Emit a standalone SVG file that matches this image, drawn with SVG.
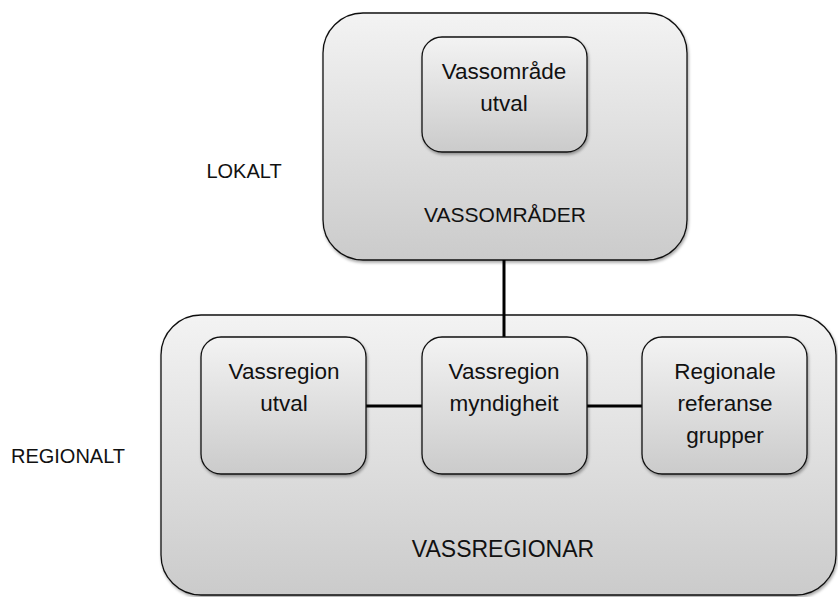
<svg xmlns="http://www.w3.org/2000/svg" width="838" height="597" viewBox="0 0 838 597">
<defs>
<linearGradient id="g" x1="0" y1="0" x2="0" y2="1">
<stop offset="0" stop-color="#f3f3f3"/>
<stop offset="1" stop-color="#cbcbcb"/>
</linearGradient>
<filter id="sh" x="-10%" y="-10%" width="120%" height="125%">
<feDropShadow dx="1" dy="2" stdDeviation="1.5" flood-color="#000" flood-opacity="0.35"/>
</filter>
</defs>
<style>
.box{fill:url(#g);stroke:#111;stroke-width:1.3;filter:url(#sh)}
text{font-family:"Liberation Sans",Arial,sans-serif;fill:#111;text-anchor:middle}
.t{font-size:22.5px}
.lbl{font-size:20px}
.conn{stroke:#000;stroke-width:3;fill:none}
</style>
<rect width="838" height="597" fill="#fff"/>
<g id="lokalt"><text class="lbl" x="244" y="178">LOKALT</text></g>
<g id="regionalt"><text class="lbl" x="68" y="463">REGIONALT</text></g>
<g id="vassomrader">
<rect class="box" x="323" y="13" width="364" height="247" rx="40"/>
<text style="font-size:21px" x="505" y="222">VASSOMRÅDER</text>
</g>
<g id="vassregionar">
<rect class="box" x="161" y="315" width="675" height="280" rx="40"/>
<text style="font-size:23px" x="503" y="557">VASSREGIONAR</text>
</g>
<g id="connectors">
<line class="conn" x1="504" y1="260" x2="504" y2="337"/>
<line class="conn" x1="366" y1="406" x2="422" y2="406"/>
<line class="conn" x1="587" y1="406" x2="642" y2="406"/>
</g>
<g id="vassomrade-utval">
<rect class="box" x="422" y="37" width="165" height="115" rx="20"/>
<text class="t" x="504" y="79">Vassområde</text>
<text class="t" x="504" y="111">utval</text>
</g>
<g id="vassregion-utval">
<rect class="box" x="201" y="337" width="165" height="137" rx="20"/>
<text class="t" x="284" y="379">Vassregion</text>
<text class="t" x="284" y="411">utval</text>
</g>
<g id="vassregion-myndigheit">
<rect class="box" x="422" y="337" width="165" height="137" rx="20"/>
<text class="t" x="504" y="379">Vassregion</text>
<text class="t" x="504" y="411">myndigheit</text>
</g>
<g id="regionale-referansegrupper">
<rect class="box" x="642" y="337" width="165" height="137" rx="20"/>
<text class="t" x="725" y="379">Regionale</text>
<text class="t" x="725" y="411">referanse</text>
<text class="t" x="725" y="443">grupper</text>
</g>
</svg>
